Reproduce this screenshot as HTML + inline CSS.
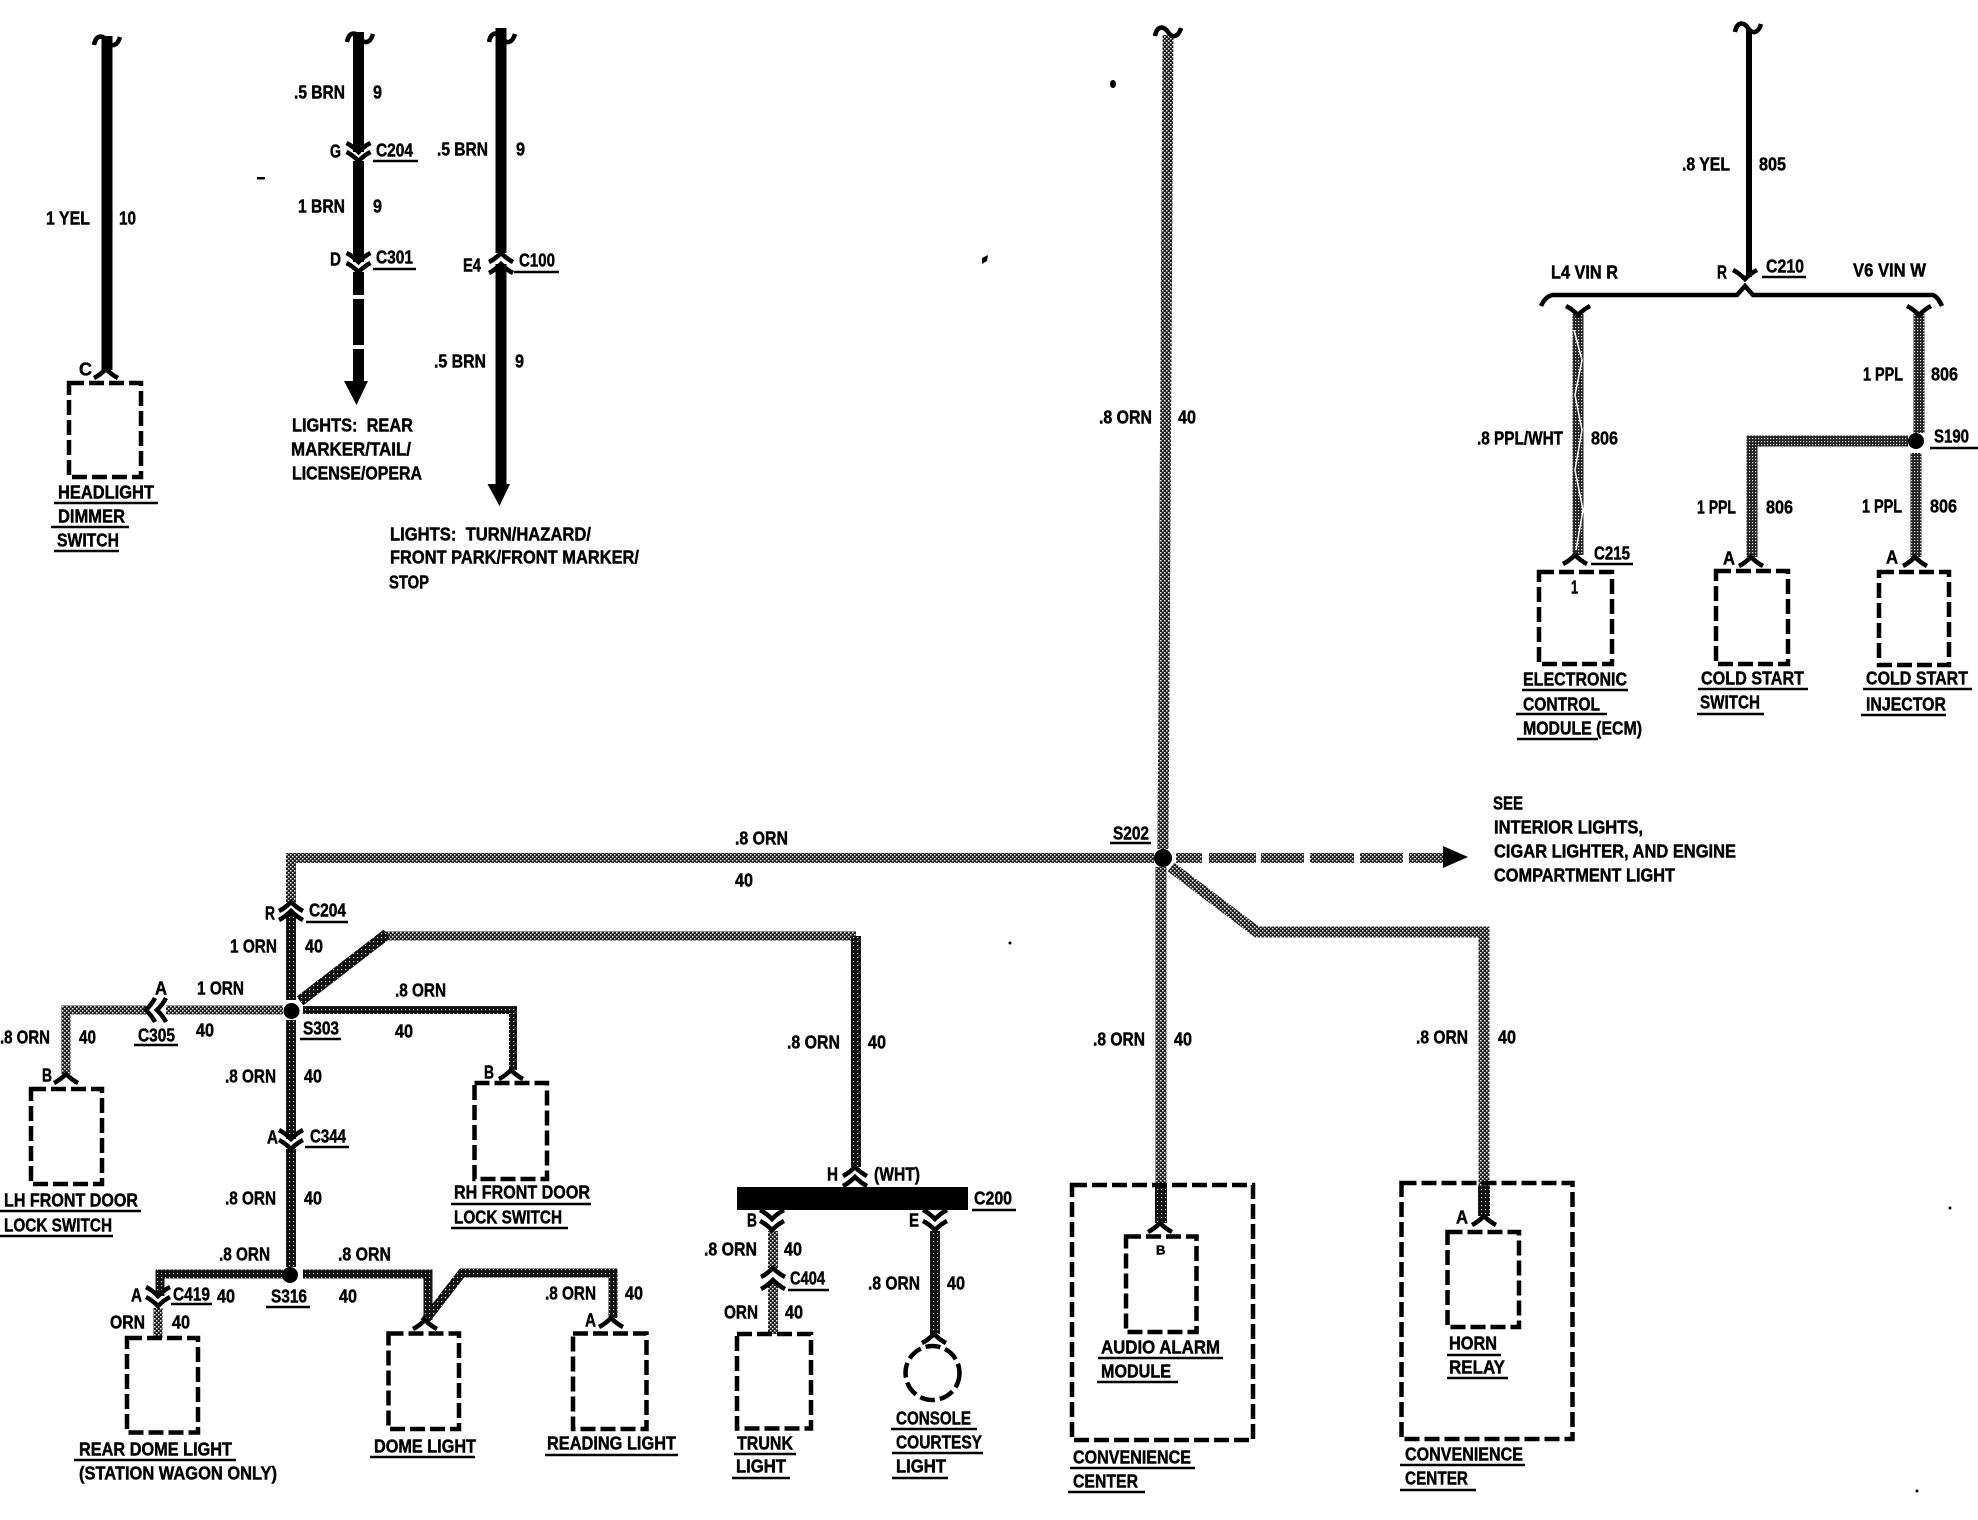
<!DOCTYPE html>
<html><head><meta charset="utf-8"><title>Wiring diagram</title>
<style>
html,body{margin:0;padding:0;background:#fff;width:1978px;height:1520px;overflow:hidden}
svg{display:block}
text{font-family:"Liberation Sans",sans-serif;font-weight:bold;font-size:18px;fill:#000;stroke:#000;stroke-width:.45}
.w{fill:none;stroke-linejoin:miter}
.k{stroke:#000}
.o{stroke:url(#po)}
.d{stroke:url(#pd)}
.p{stroke:url(#pp)}
.b{fill:none;stroke:#000;stroke-width:4.5;stroke-dasharray:15 5}
.a{fill:none;stroke:#000;stroke-width:4.5}
</style></head><body>
<svg xmlns="http://www.w3.org/2000/svg" width="1978" height="1520" viewBox="0 0 1978 1520">
<defs>
<pattern id="po" width="4" height="4" patternUnits="userSpaceOnUse"><rect width="4" height="4" fill="#222"/><rect x="0" y="0" width="1.5" height="1.5" fill="#eee"/><rect x="2" y="2" width="1.5" height="1.5" fill="#eee"/></pattern>
<pattern id="pd" width="4" height="4" patternUnits="userSpaceOnUse"><rect width="4" height="4" fill="#111"/><rect x="1" y="1" width="1.2" height="1.2" fill="#ccc"/></pattern>
<pattern id="pp" width="3" height="3" patternUnits="userSpaceOnUse"><rect width="3" height="3" fill="#222"/><rect x="0" y="0" width="1.2" height="1.2" fill="#ddd"/></pattern>
<path id="cap" d="M-12,9 Q-6,6 0,0 Q6,6 12,9" class="a"/>
<path id="cup" d="M-12,-9 Q-6,-6 0,0 Q6,-6 12,-9" class="a"/>
<path id="til" d="M-13,5 C-11,-6 -4,-5 0,1 C4,7 10,7 13,-3" class="a"/>
</defs>

<!-- black wires -->
<g class="w k" stroke-width="11">
<path d="M107,36V370"/>
<path d="M358.5,32V152M358.5,161V262M358.5,272V295M358.5,299V345M358.5,349V383"/>
<path d="M501,28V253M501,264V486"/>
</g>
<path class="w k" stroke-width="6" d="M1749,29V277"/>
<polygon points="344,381 368,381 356.5,405"/>
<polygon points="487.5,484 510,484 499.5,506"/>

<!-- C210 bus -->
<path class="a" stroke-width="4" d="M1541,306 Q1545,297 1552,295 H1737 L1745,286 L1753,295 H1933 Q1938,297 1942,306"/>

<!-- purple wires -->
<g class="w p" stroke-width="11">
<path d="M1578,314V555"/>
<path d="M1919,314V433"/>
<path d="M1916,453V557"/>
<path d="M1908,441H1752V557"/>
</g>
<polyline points="1574,330 1582,360 1575,395 1582,430 1575,470 1583,510 1576,550" fill="none" stroke="#fff" stroke-width="1.5"/>

<!-- orange wires (lighter) -->
<g class="w o" stroke-width="11">
<path d="M1168,35L1163,849"/>
<path d="M1161,867V1186"/>
<path d="M1171,867 L1257,932 H1484 V1186"/>
<path d="M1154,858H291V903" stroke-width="10"/>
<path d="M1176,858H1202M1209,858H1256M1261,858H1304M1310,858H1354M1360,858H1403M1409,858H1443" stroke-width="10"/>
<path d="M384,936H856"  stroke-width="9"/>
<path d="M283,1010H166M146,1010H66V1074" stroke-width="9"/>
<path d="M158,1308V1338" stroke-width="9"/>
<path d="M773,1231V1268M773,1281V1334" stroke-width="10"/>
</g>
<!-- darker wires -->
<g class="w d" stroke-width="10">
<path d="M291,913V1000"/>
<path d="M300,1001L387,934" stroke-width="11"/>
<path d="M303,1010H513V1070" stroke-width="8"/>
<path d="M291,1020V1139"/>
<path d="M291,1149V1267"/>
<path d="M283,1274H160V1296" stroke-width="9"/>
<path d="M303,1274H428V1320" stroke-width="9"/>
<path d="M424,1322L462,1273H613V1318" stroke-width="9"/>
<path d="M856,936V1167"/>
<path d="M935,1231V1334"/>
<path d="M1161,1186V1223" stroke-width="12"/>
<path d="M1484,1186V1216" stroke-width="12"/>
</g>
<polygon points="1443,846 1468,857 1443,868"/>

<!-- black bar -->
<rect x="737" y="1187" width="231" height="23"/>

<!-- junctions -->
<circle cx="1163" cy="858" r="9"/>
<circle cx="291.5" cy="1011" r="8"/>
<circle cx="290" cy="1275" r="8"/>
<circle cx="1916" cy="441" r="8"/>

<!-- boxes -->
<g class="b">
<rect x="69" y="383" width="72" height="94"/>
<rect x="1539" y="572" width="73" height="92"/>
<rect x="1716" y="571" width="72" height="93"/>
<rect x="1879" y="572" width="70" height="93"/>
<rect x="31" y="1089" width="71" height="95"/>
<rect x="474.5" y="1083" width="72.5" height="96"/>
<rect x="127" y="1338" width="71" height="94.5"/>
<rect x="388.5" y="1333.5" width="70.5" height="95.5"/>
<rect x="573" y="1333.5" width="73.5" height="95.5"/>
<rect x="737" y="1334" width="74" height="94.5"/>
<rect x="1072" y="1185" width="181" height="255"/>
<rect x="1126" y="1236.5" width="70.5" height="95.5"/>
<rect x="1401.5" y="1183" width="171" height="256"/>
<rect x="1447.5" y="1232" width="71.5" height="95"/>
<circle cx="932.5" cy="1373" r="27"/>
</g>

<!-- tildes -->
<use href="#til" x="107" y="40"/>
<use href="#til" x="360" y="37"/>
<use href="#til" x="502" y="37"/>
<use href="#til" x="1168" y="31"/>
<use href="#til" x="1748" y="27"/>

<!-- connectors -->
<use href="#cap" x="106" y="369"/>
<use href="#cup" x="358.5" y="152"/><use href="#cup" x="358.5" y="161"/>
<use href="#cup" x="358.5" y="262"/><use href="#cup" x="358.5" y="272"/>
<use href="#cap" x="501" y="253"/><use href="#cap" x="501" y="264"/>
<use href="#cup" x="1745" y="279"/>
<use href="#cup" x="1578" y="315"/><use href="#cup" x="1919" y="315"/>
<use href="#cap" x="1575" y="555"/><use href="#cap" x="1751" y="557"/><use href="#cap" x="1915" y="557"/>
<use href="#cap" x="291" y="902"/><use href="#cap" x="291" y="911"/>
<use href="#cap" transform="translate(146,1010) rotate(-90)"/><use href="#cap" transform="translate(157,1010) rotate(-90)"/>
<use href="#cap" x="66" y="1074"/><use href="#cap" x="511" y="1070"/>
<use href="#cup" x="291" y="1139"/><use href="#cup" x="291" y="1149"/>
<use href="#cup" x="158" y="1296"/><use href="#cup" x="158" y="1306"/>
<use href="#cap" x="425" y="1320"/><use href="#cap" x="611" y="1318"/>
<use href="#cap" x="855" y="1167"/><use href="#cap" x="855" y="1177"/>
<use href="#cup" x="772" y="1219"/><use href="#cup" x="772" y="1230"/>
<use href="#cup" x="935" y="1219"/><use href="#cup" x="935" y="1230"/>
<use href="#cap" x="773" y="1268"/><use href="#cap" x="773" y="1280"/>
<use href="#cap" x="934" y="1334"/>
<use href="#cap" x="1160" y="1223"/><use href="#cap" x="1484" y="1216"/>

<!-- underlines -->
<path fill="none" stroke="#000" stroke-width="2.5" d="
M54,503H158M51,527H129M54,551H119
M373,161H418M373,269H416M514,272H559
M1762,277H1806M1591,564H1633M1522,690H1628M1516,714H1607M1517,739H1598
M1930,448H1978M1698,689H1808M1697,714H1764M1863,689H1972M1861,715H1946
M306,922H348M134,1045H178M300,1039H341M305,1147H349
M0,1211H141M0,1236H113M451,1204H591M451,1228H568
M171,1304H212M266,1307H310M74,1460H236M370,1457H475M545,1455H678
M1110,843H1151M972,1210H1016M788,1290H829
M734,1454H796M732,1478H790M891,1429H977M892,1453H983M892,1478H948
M1098,1358H1223M1097,1382H1178M1070,1468H1195M1068,1492H1145
M1447,1355H1501M1447,1378H1508M1400,1465H1525M1400,1490H1476"/>

<!-- text -->
<g transform="translate(0,-0.5)">
<text x="46" y="225" textLength="44" lengthAdjust="spacingAndGlyphs">1 YEL</text>
<text x="119" y="225" textLength="17" lengthAdjust="spacingAndGlyphs">10</text>
<text x="79" y="376">C</text>
<text x="58" y="499" textLength="96" lengthAdjust="spacingAndGlyphs">HEADLIGHT</text>
<text x="58" y="523" textLength="67" lengthAdjust="spacingAndGlyphs">DIMMER</text>
<text x="57" y="547" textLength="62" lengthAdjust="spacingAndGlyphs">SWITCH</text>

<text x="294" y="99" textLength="51" lengthAdjust="spacingAndGlyphs">.5 BRN</text>
<text x="373" y="99" textLength="9" lengthAdjust="spacingAndGlyphs">9</text>
<text x="330" y="158" textLength="11" lengthAdjust="spacingAndGlyphs">G</text>
<text x="376" y="157" textLength="37" lengthAdjust="spacingAndGlyphs">C204</text>
<text x="298" y="213" textLength="47" lengthAdjust="spacingAndGlyphs">1 BRN</text>
<text x="373" y="213" textLength="9" lengthAdjust="spacingAndGlyphs">9</text>
<text x="330" y="266" textLength="11" lengthAdjust="spacingAndGlyphs">D</text>
<text x="376" y="264" textLength="37" lengthAdjust="spacingAndGlyphs">C301</text>
<text x="292" y="432" textLength="121" lengthAdjust="spacingAndGlyphs" xml:space="preserve">LIGHTS:  REAR</text>
<text x="291" y="456" textLength="120" lengthAdjust="spacingAndGlyphs">MARKER/TAIL/</text>
<text x="292" y="480" textLength="130" lengthAdjust="spacingAndGlyphs">LICENSE/OPERA</text>

<text x="437" y="156" textLength="51" lengthAdjust="spacingAndGlyphs">.5 BRN</text>
<text x="516" y="156" textLength="9" lengthAdjust="spacingAndGlyphs">9</text>
<text x="463" y="272" textLength="18" lengthAdjust="spacingAndGlyphs">E4</text>
<text x="519" y="267" textLength="36" lengthAdjust="spacingAndGlyphs">C100</text>
<text x="434" y="368" textLength="52" lengthAdjust="spacingAndGlyphs">.5 BRN</text>
<text x="515" y="368" textLength="9" lengthAdjust="spacingAndGlyphs">9</text>
<text x="390" y="541" textLength="201" lengthAdjust="spacingAndGlyphs" xml:space="preserve">LIGHTS:  TURN/HAZARD/</text>
<text x="390" y="564" textLength="249" lengthAdjust="spacingAndGlyphs">FRONT PARK/FRONT MARKER/</text>
<text x="389" y="589" textLength="40" lengthAdjust="spacingAndGlyphs">STOP</text>

<text x="1099" y="424" textLength="53" lengthAdjust="spacingAndGlyphs">.8 ORN</text>
<text x="1178" y="424" textLength="18" lengthAdjust="spacingAndGlyphs">40</text>

<text x="1682" y="171" textLength="48" lengthAdjust="spacingAndGlyphs">.8 YEL</text>
<text x="1759" y="171" textLength="27" lengthAdjust="spacingAndGlyphs">805</text>
<text x="1717" y="279" textLength="10" lengthAdjust="spacingAndGlyphs">R</text>
<text x="1766" y="273" textLength="38" lengthAdjust="spacingAndGlyphs">C210</text>
<text x="1551" y="279" textLength="67" lengthAdjust="spacingAndGlyphs">L4 VIN R</text>
<text x="1853" y="277" textLength="73" lengthAdjust="spacingAndGlyphs">V6 VIN W</text>
<text x="1477" y="445" textLength="86" lengthAdjust="spacingAndGlyphs">.8 PPL/WHT</text>
<text x="1591" y="445" textLength="27" lengthAdjust="spacingAndGlyphs">806</text>
<text x="1594" y="560" textLength="36" lengthAdjust="spacingAndGlyphs">C215</text>
<text x="1571" y="594" textLength="7" lengthAdjust="spacingAndGlyphs">1</text>
<text x="1523" y="686" textLength="104" lengthAdjust="spacingAndGlyphs">ELECTRONIC</text>
<text x="1523" y="711" textLength="77" lengthAdjust="spacingAndGlyphs">CONTROL</text>
<text x="1523" y="735" textLength="119" lengthAdjust="spacingAndGlyphs">MODULE (ECM)</text>
<text x="1863" y="381" textLength="40" lengthAdjust="spacingAndGlyphs">1 PPL</text>
<text x="1931" y="381" textLength="27" lengthAdjust="spacingAndGlyphs">806</text>
<text x="1934" y="443" textLength="35" lengthAdjust="spacingAndGlyphs">S190</text>
<text x="1697" y="514" textLength="39" lengthAdjust="spacingAndGlyphs">1 PPL</text>
<text x="1766" y="514" textLength="27" lengthAdjust="spacingAndGlyphs">806</text>
<text x="1723" y="565" textLength="12" lengthAdjust="spacingAndGlyphs">A</text>
<text x="1701" y="685" textLength="103" lengthAdjust="spacingAndGlyphs">COLD START</text>
<text x="1700" y="709" textLength="60" lengthAdjust="spacingAndGlyphs">SWITCH</text>
<text x="1862" y="513" textLength="40" lengthAdjust="spacingAndGlyphs">1 PPL</text>
<text x="1930" y="513" textLength="27" lengthAdjust="spacingAndGlyphs">806</text>
<text x="1886" y="564" textLength="12" lengthAdjust="spacingAndGlyphs">A</text>
<text x="1866" y="685" textLength="102" lengthAdjust="spacingAndGlyphs">COLD START</text>
<text x="1866" y="711" textLength="80" lengthAdjust="spacingAndGlyphs">INJECTOR</text>

<text x="735" y="845" textLength="53" lengthAdjust="spacingAndGlyphs">.8 ORN</text>
<text x="735" y="887" textLength="18" lengthAdjust="spacingAndGlyphs">40</text>
<text x="1113" y="840" textLength="36" lengthAdjust="spacingAndGlyphs">S202</text>
<text x="1493" y="810" textLength="30" lengthAdjust="spacingAndGlyphs">SEE</text>
<text x="1494" y="834" textLength="149" lengthAdjust="spacingAndGlyphs">INTERIOR LIGHTS,</text>
<text x="1494" y="858" textLength="242" lengthAdjust="spacingAndGlyphs">CIGAR LIGHTER, AND ENGINE</text>
<text x="1494" y="882" textLength="181" lengthAdjust="spacingAndGlyphs">COMPARTMENT LIGHT</text>

<text x="265" y="920" textLength="10" lengthAdjust="spacingAndGlyphs">R</text>
<text x="309" y="917" textLength="37" lengthAdjust="spacingAndGlyphs">C204</text>
<text x="230" y="953" textLength="47" lengthAdjust="spacingAndGlyphs">1 ORN</text>
<text x="305" y="953" textLength="18" lengthAdjust="spacingAndGlyphs">40</text>
<text x="155" y="995" textLength="12" lengthAdjust="spacingAndGlyphs">A</text>
<text x="197" y="995" textLength="47" lengthAdjust="spacingAndGlyphs">1 ORN</text>
<text x="0" y="1044" textLength="50" lengthAdjust="spacingAndGlyphs">.8 ORN</text>
<text x="79" y="1044" textLength="17" lengthAdjust="spacingAndGlyphs">40</text>
<text x="138" y="1042" textLength="37" lengthAdjust="spacingAndGlyphs">C305</text>
<text x="196" y="1037" textLength="18" lengthAdjust="spacingAndGlyphs">40</text>
<text x="303" y="1035" textLength="36" lengthAdjust="spacingAndGlyphs">S303</text>
<text x="395" y="997" textLength="51" lengthAdjust="spacingAndGlyphs">.8 ORN</text>
<text x="395" y="1038" textLength="18" lengthAdjust="spacingAndGlyphs">40</text>
<text x="484" y="1079" textLength="10" lengthAdjust="spacingAndGlyphs">B</text>
<text x="42" y="1082" textLength="10" lengthAdjust="spacingAndGlyphs">B</text>
<text x="4" y="1207" textLength="134" lengthAdjust="spacingAndGlyphs">LH FRONT DOOR</text>
<text x="4" y="1232" textLength="108" lengthAdjust="spacingAndGlyphs">LOCK SWITCH</text>
<text x="454" y="1199" textLength="136" lengthAdjust="spacingAndGlyphs">RH FRONT DOOR</text>
<text x="454" y="1224" textLength="108" lengthAdjust="spacingAndGlyphs">LOCK SWITCH</text>
<text x="225" y="1083" textLength="51" lengthAdjust="spacingAndGlyphs">.8 ORN</text>
<text x="304" y="1083" textLength="18" lengthAdjust="spacingAndGlyphs">40</text>
<text x="267" y="1144" textLength="11" lengthAdjust="spacingAndGlyphs">A</text>
<text x="310" y="1143" textLength="36" lengthAdjust="spacingAndGlyphs">C344</text>
<text x="225" y="1205" textLength="51" lengthAdjust="spacingAndGlyphs">.8 ORN</text>
<text x="304" y="1205" textLength="18" lengthAdjust="spacingAndGlyphs">40</text>
<text x="219" y="1261" textLength="51" lengthAdjust="spacingAndGlyphs">.8 ORN</text>
<text x="338" y="1261" textLength="53" lengthAdjust="spacingAndGlyphs">.8 ORN</text>
<text x="131" y="1302" textLength="11" lengthAdjust="spacingAndGlyphs">A</text>
<text x="173" y="1301" textLength="37" lengthAdjust="spacingAndGlyphs">C419</text>
<text x="217" y="1303" textLength="18" lengthAdjust="spacingAndGlyphs">40</text>
<text x="271" y="1303" textLength="36" lengthAdjust="spacingAndGlyphs">S316</text>
<text x="339" y="1303" textLength="18" lengthAdjust="spacingAndGlyphs">40</text>
<text x="545" y="1300" textLength="51" lengthAdjust="spacingAndGlyphs">.8 ORN</text>
<text x="625" y="1300" textLength="18" lengthAdjust="spacingAndGlyphs">40</text>
<text x="585" y="1327" textLength="11" lengthAdjust="spacingAndGlyphs">A</text>
<text x="110" y="1329" textLength="35" lengthAdjust="spacingAndGlyphs">ORN</text>
<text x="172" y="1329" textLength="18" lengthAdjust="spacingAndGlyphs">40</text>
<text x="79" y="1456" textLength="153" lengthAdjust="spacingAndGlyphs">REAR DOME LIGHT</text>
<text x="79" y="1480" textLength="198" lengthAdjust="spacingAndGlyphs">(STATION WAGON ONLY)</text>
<text x="374" y="1453" textLength="102" lengthAdjust="spacingAndGlyphs">DOME LIGHT</text>
<text x="547" y="1450" textLength="129" lengthAdjust="spacingAndGlyphs">READING LIGHT</text>

<text x="787" y="1049" textLength="53" lengthAdjust="spacingAndGlyphs">.8 ORN</text>
<text x="868" y="1049" textLength="18" lengthAdjust="spacingAndGlyphs">40</text>
<text x="827" y="1181" textLength="11" lengthAdjust="spacingAndGlyphs">H</text>
<text x="874" y="1181" textLength="46" lengthAdjust="spacingAndGlyphs">(WHT)</text>
<text x="974" y="1205" textLength="38" lengthAdjust="spacingAndGlyphs">C200</text>
<text x="747" y="1227" textLength="10" lengthAdjust="spacingAndGlyphs">B</text>
<text x="909" y="1227" textLength="10" lengthAdjust="spacingAndGlyphs">E</text>
<text x="704" y="1256" textLength="53" lengthAdjust="spacingAndGlyphs">.8 ORN</text>
<text x="784" y="1256" textLength="18" lengthAdjust="spacingAndGlyphs">40</text>
<text x="790" y="1285" textLength="35" lengthAdjust="spacingAndGlyphs">C404</text>
<text x="724" y="1319" textLength="34" lengthAdjust="spacingAndGlyphs">ORN</text>
<text x="785" y="1319" textLength="18" lengthAdjust="spacingAndGlyphs">40</text>
<text x="868" y="1290" textLength="52" lengthAdjust="spacingAndGlyphs">.8 ORN</text>
<text x="947" y="1290" textLength="18" lengthAdjust="spacingAndGlyphs">40</text>
<text x="737" y="1450" textLength="56" lengthAdjust="spacingAndGlyphs">TRUNK</text>
<text x="736" y="1473" textLength="50" lengthAdjust="spacingAndGlyphs">LIGHT</text>
<text x="896" y="1425" textLength="75" lengthAdjust="spacingAndGlyphs">CONSOLE</text>
<text x="896" y="1449" textLength="86" lengthAdjust="spacingAndGlyphs">COURTESY</text>
<text x="896" y="1473" textLength="50" lengthAdjust="spacingAndGlyphs">LIGHT</text>

<text x="1093" y="1046" textLength="52" lengthAdjust="spacingAndGlyphs">.8 ORN</text>
<text x="1174" y="1046" textLength="18" lengthAdjust="spacingAndGlyphs">40</text>
<text x="1156" y="1255" style="font-size:13px">B</text>
<text x="1101" y="1354" textLength="119" lengthAdjust="spacingAndGlyphs">AUDIO ALARM</text>
<text x="1101" y="1378" textLength="70" lengthAdjust="spacingAndGlyphs">MODULE</text>
<text x="1073" y="1464" textLength="118" lengthAdjust="spacingAndGlyphs">CONVENIENCE</text>
<text x="1073" y="1488" textLength="65" lengthAdjust="spacingAndGlyphs">CENTER</text>

<text x="1416" y="1044" textLength="52" lengthAdjust="spacingAndGlyphs">.8 ORN</text>
<text x="1498" y="1044" textLength="18" lengthAdjust="spacingAndGlyphs">40</text>
<text x="1456" y="1224" textLength="12" lengthAdjust="spacingAndGlyphs">A</text>
<text x="1449" y="1350" textLength="48" lengthAdjust="spacingAndGlyphs">HORN</text>
<text x="1449" y="1374" textLength="56" lengthAdjust="spacingAndGlyphs">RELAY</text>
<text x="1405" y="1461" textLength="118" lengthAdjust="spacingAndGlyphs">CONVENIENCE</text>
<text x="1405" y="1485" textLength="63" lengthAdjust="spacingAndGlyphs">CENTER</text>
</g>

<!-- specks -->
<ellipse cx="1113" cy="84" rx="3" ry="4"/>
<path d="M982,258 l6,-3 l-1,6 l-5,3z"/>
<rect x="257" y="177" width="8" height="2.5"/>
<circle cx="1917" cy="1491" r="1.5"/><circle cx="1950" cy="1208" r="1.5"/>
<circle cx="1010" cy="943" r="1.5"/>
</svg>
</body></html>
